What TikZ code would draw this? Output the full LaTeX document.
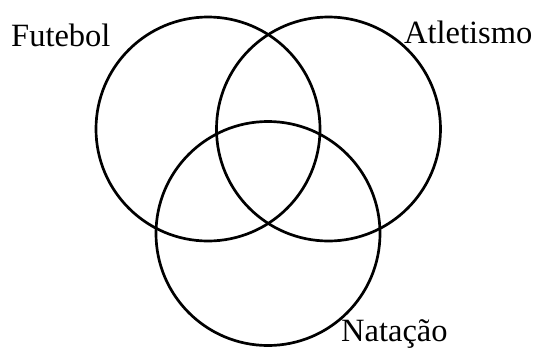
\documentclass[tikz,border=0pt]{standalone}
\usepackage{fontspec}
\setmainfont{Liberation Serif}
\begin{document}
\begin{tikzpicture}[x=1pt,y=-1pt,
  setcircle/.style={circle,draw=black,line width=2.7pt,minimum size=224pt,inner sep=0pt},
  setlabel/.style={anchor=base west,inner sep=0pt,font=\fontsize{32.5}{36}\selectfont}]
\useasboundingbox (0,0) rectangle (536,349);
\node[setcircle] (fut) at (208,129) {};
\node[setcircle] (atl) at (328.5,129) {};
\node[setcircle] (nat) at (268,233.5) {};
\node[setlabel] (lfut) at (11,46) {Futebol};
\node[setlabel] (latl) at (404,43) {Atletismo};
\node[setlabel] (lnat) at (341,341) {Natação};
\end{tikzpicture}
\end{document}
